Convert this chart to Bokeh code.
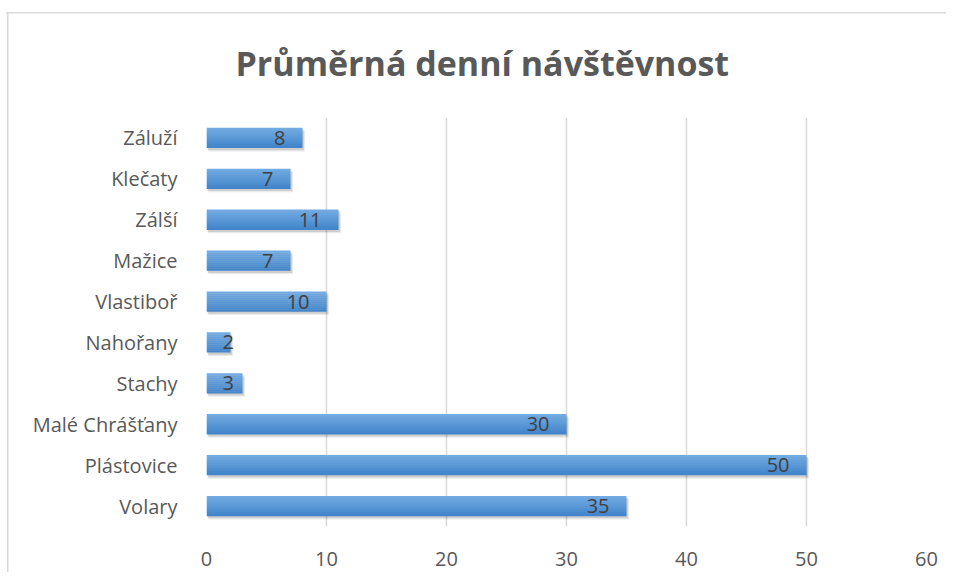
from bokeh.plotting import figure
from bokeh.models import Range1d, FixedTicker, Title, ColumnDataSource
from bokeh.core.properties import value
from bokeh.embed import file_html
from bokeh.resources import INLINE

title_text = "Průměrná denní návštěvnost"
categories = ["Záluží", "Klečaty", "Zálší", "Mažice", "Vlastiboř",
              "Nahořany", "Stachy", "Malé Chrášťany", "Plástovice", "Volary"]
visits = [8, 7, 11, 7, 10, 2, 3, 30, 50, 35]
x_ticks = [0, 10, 20, 30, 40, 50, 60]

FONT = "Open Sans"
FS = "20px"
n = len(categories)
ypos = [n - 1 - i for i in range(n)]  # first category at top

p = figure(width=940, height=569, output_backend="svg", toolbar_location=None,
           x_range=Range1d(0, 60), y_range=Range1d(-0.5, n - 0.5),
           min_border_left=200, min_border_right=20, min_border_top=114,
           min_border_bottom=46)
p.styles = {"margin-left": "6px", "margin-top": "3px",
            "background": ("linear-gradient(#d9d9d9,#d9d9d9) 0px 9px / 100% 1.5px no-repeat, "
                           "linear-gradient(#d9d9d9,#d9d9d9) 1px 9px / 1.5px 100% no-repeat")}
p.outline_line_color = None
p.background_fill_color = "white"
p.border_fill_alpha = 0

p.title = Title(text=title_text, align="left", offset=29, standoff=63,
                text_font=FONT, text_font_size="34px", text_font_style="bold",
                text_color="#595959")

# grid
p.xgrid.ticker = FixedTicker(ticks=x_ticks)
p.xgrid.grid_line_color = "#d9d9d9"
p.xgrid.grid_line_width = 1.5
p.ygrid.grid_line_color = None

# axes
p.xaxis.ticker = FixedTicker(ticks=x_ticks)
p.xaxis.axis_line_color = None
p.xaxis.major_tick_line_color = None
p.xaxis.minor_tick_line_color = None
p.xaxis.major_label_text_font = FONT
p.xaxis.major_label_text_font_size = FS
p.xaxis.major_label_text_color = "#595959"
p.xaxis.major_label_standoff = 19

p.yaxis.ticker = FixedTicker(ticks=ypos)
p.yaxis.major_label_overrides = {y: c for y, c in zip(ypos, categories)}
p.yaxis.axis_line_color = None
p.yaxis.major_tick_line_color = None
p.yaxis.minor_tick_line_color = None
p.yaxis.major_label_text_font = FONT
p.yaxis.major_label_text_font_size = FS
p.yaxis.major_label_text_color = "#595959"
p.yaxis.major_label_standoff = 23

# shadow
p.hbar(y=[y - 0.08 for y in ypos], left=0.15, right=[v + 0.22 for v in visits],
       height=0.5, fill_color="black", fill_alpha=0.08, line_color=None)
p.hbar(y=[y - 0.05 for y in ypos], left=0.1, right=[v + 0.12 for v in visits],
       height=0.5, fill_color="black", fill_alpha=0.12, line_color=None)

# gradient bars (strips)
bar_h = 0.49
strip_colors = ["#72aae1", "#6da6df", "#68a2dc", "#629eda", "#5d9ad8",
                "#5896d5", "#5292d2", "#4d8ed0", "#4889cd", "#4385cb"]
ns = len(strip_colors)
sh = bar_h / ns
for k, col in enumerate(strip_colors):
    off = bar_h / 2 - sh * (k + 0.5)
    p.hbar(y=[y + off for y in ypos], left=0, right=visits, height=sh * 1.15,
           fill_color=col, line_color=None)

# value labels (inside end; short bars: label starts near the bar start)
fits = [v >= 4 for v in visits]
src_in = ColumnDataSource(dict(x=[v for v, f in zip(visits, fits) if f],
                               y=[y for y, f in zip(ypos, fits) if f],
                               t=[str(v) for v, f in zip(visits, fits) if f]))
src_small = ColumnDataSource(dict(x=[0 for f in fits if not f],
                                  y=[y for y, f in zip(ypos, fits) if not f],
                                  t=[str(v) for v, f in zip(visits, fits) if not f]))
p.text(x="x", y="y", text="t", source=src_in, text_align="right", x_offset=-17,
       text_baseline="middle", text_font=value(FONT), text_font_size=FS,
       text_color="#404040")
p.text(x="x", y="y", text="t", source=src_small, text_align="left", x_offset=16,
       text_baseline="middle", text_font=value(FONT), text_font_size=FS,
       text_color="#404040")

open("out.html", "w").write(file_html(p, INLINE))
